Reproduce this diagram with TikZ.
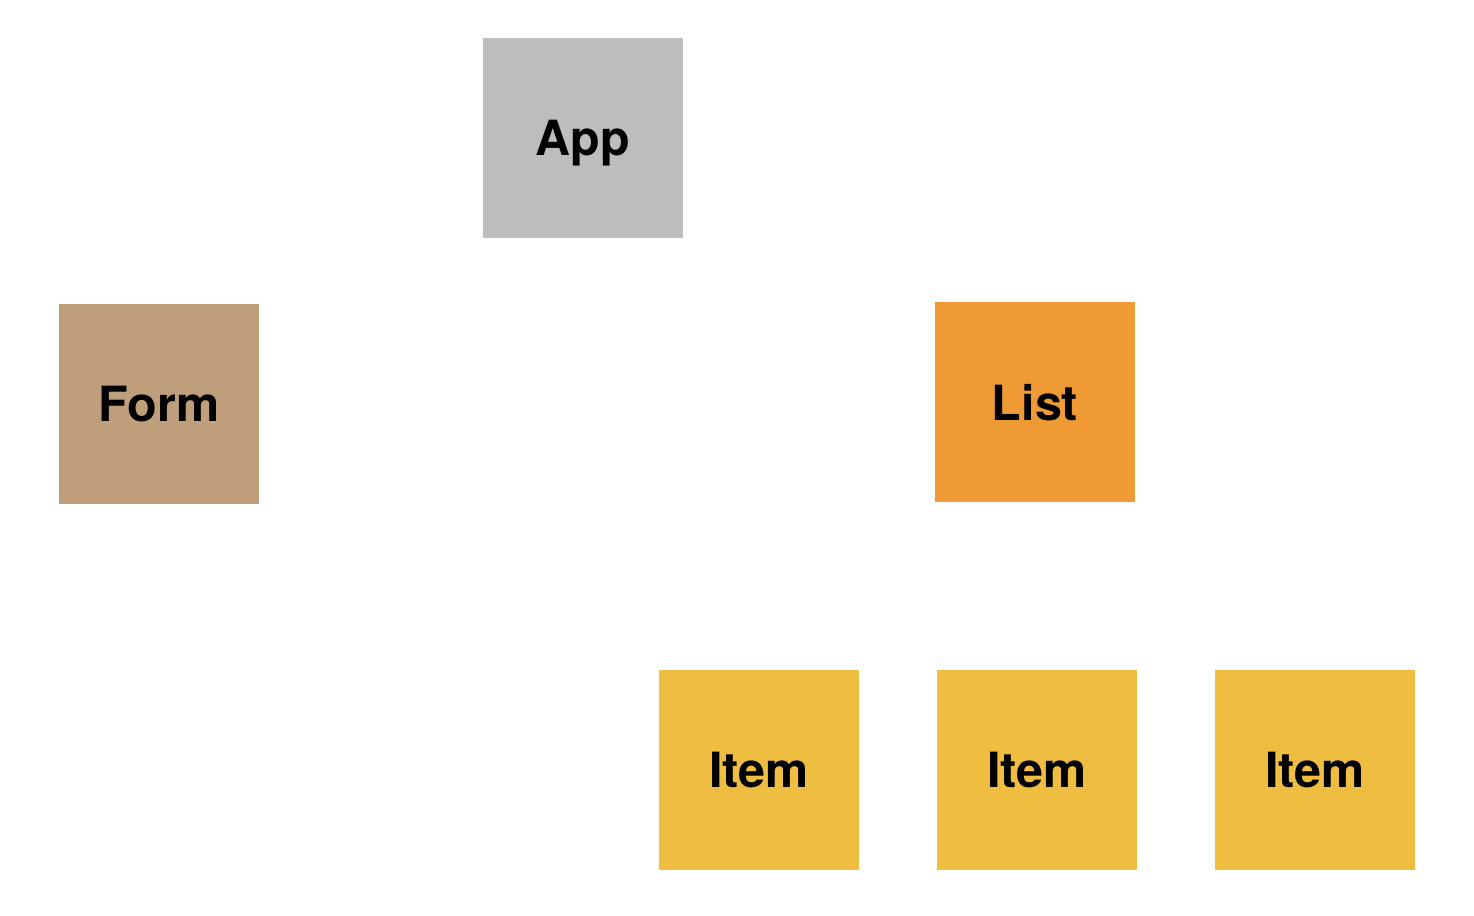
\documentclass[tikz,border=0pt]{standalone}
\usepackage{fontspec}
\setmainfont{TeX Gyre Heros}
\definecolor{appgray}{HTML}{BDBDBD}
\definecolor{formtan}{HTML}{BF9F7B}
\definecolor{listorange}{HTML}{F09A36}
\definecolor{itemyellow}{HTML}{EFBD40}
\tikzset{
  comp/.style={minimum size=2cm, inner sep=0pt, text depth=0pt, font=\fontsize{13.8}{16}\selectfont\bfseries}
}
\begin{document}
\begin{tikzpicture}
      \useasboundingbox (0,0) rectangle (14.74,9.16);
      \node[comp, fill=appgray] (app) at (5.83,7.78) {App};
      \node[comp, fill=formtan] (form) at (1.59,5.12) {Form};
      \node[comp, fill=listorange] (list) at (10.35,5.14) {List};
      \node[comp, fill=itemyellow] (item1) at (7.59,1.46) {Item};
      \node[comp, fill=itemyellow] (item2) at (10.37,1.46) {Item};
      \node[comp, fill=itemyellow] (item3) at (13.15,1.46) {Item};
\end{tikzpicture}
\end{document}
